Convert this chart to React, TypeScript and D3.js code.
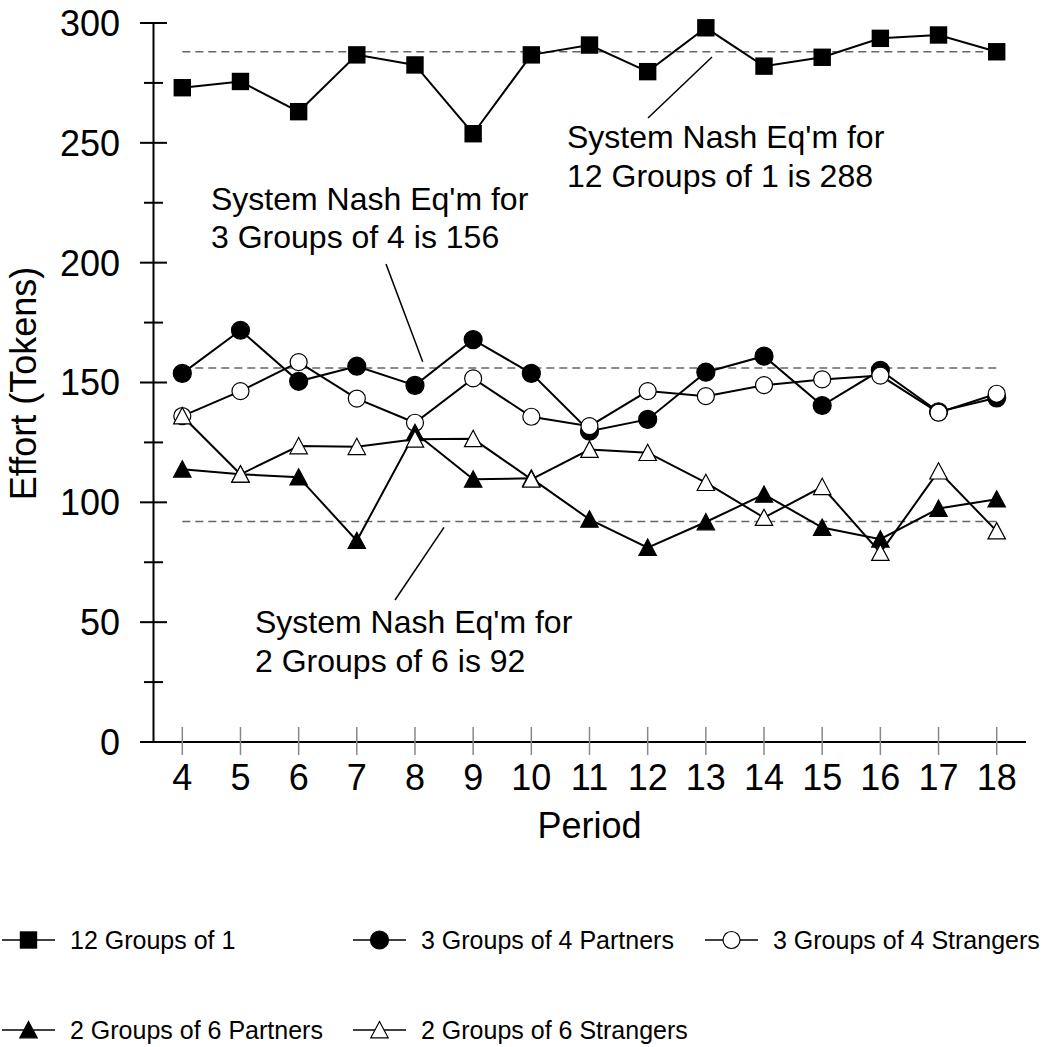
import React from 'react';
import * as d3 from 'd3';

// periods on the x axis
const periods = [4, 5, 6, 7, 8, 9, 10, 11, 12, 13, 14, 15, 16, 17, 18];

// mean effort per period
const groups12of1 = [273, 275.6, 263, 286.7, 282.5, 253.8, 286.7, 290.8, 279.7, 298, 282, 285.7, 293.6, 295, 288];
const groups3of4Partners = [153.8, 171.8, 150.5, 156.8, 148.8, 167.9, 153.8, 129.7, 134.6, 154.3, 161, 140.4, 155.1, 137.8, 143.6];
const groups3of4Strangers = [136, 146.4, 158.5, 143.3, 133.2, 151.7, 135.7, 131.8, 146.4, 144.3, 148.9, 151.3, 152.9, 137.4, 145.3];
const groups2of6Partners = [113.8, 111.7, 110.5, 84, 129, 109.6, 110, 92.9, 81.1, 91.8, 103.3, 89.5, 84.6, 97.4, 101.3];
const groups2of6Strangers = [136, 111.7, 123.5, 123.2, 126.3, 126.5, 109.6, 122, 120.7, 108.2, 93.6, 106.5, 79, 113, 88];

// equilibrium reference lines
const nashValues = [288, 156, 92];

const yMajorTicks = [0, 50, 100, 150, 200, 250, 300];
const yMinorTicks = [25, 75, 125, 175, 225, 275];

type Marker = 'square' | 'circle' | 'openCircle' | 'triangle' | 'openTriangle';

const series: { name: string; values: number[]; marker: Marker }[] = [
  { name: '12 Groups of 1', values: groups12of1, marker: 'square' },
  { name: '3 Groups of 4 Partners', values: groups3of4Partners, marker: 'circle' },
  { name: '3 Groups of 4 Strangers', values: groups3of4Strangers, marker: 'openCircle' },
  { name: '2 Groups of 6 Partners', values: groups2of6Partners, marker: 'triangle' },
  { name: '2 Groups of 6 Strangers', values: groups2of6Strangers, marker: 'openTriangle' },
];

const FONT = 'Liberation Sans, Arial, Helvetica, sans-serif';

const MarkerShape = ({ type, x, y }: { type: Marker; x: number; y: number }) => {
  const filled = type === 'square' || type === 'circle' || type === 'triangle';
  const fill = filled ? '#000' : '#fff';
  if (type === 'square') {
    return <rect x={x - 8.7} y={y - 8.7} width={17.4} height={17.4} fill="#000" />;
  }
  if (type === 'circle' || type === 'openCircle') {
    return <circle cx={x} cy={y} r={filled ? 9 : 8.5} fill={fill} stroke="#000" strokeWidth={1.2} />;
  }
  return (
    <path
      d={`M${x},${y - 8.5} L${x + 8.7},${y + 7.8} L${x - 8.7},${y + 7.8} Z`}
      fill={fill}
      stroke="#000"
      strokeWidth={1.2}
    />
  );
};

const App = () => {
  const width = 1049;
  const height = 1047;

  const x = d3.scaleLinear().domain([4, 18]).range([182.3, 996.7]);
  const y = d3.scaleLinear().domain([0, 300]).range([742, 23]);

  const line = d3
    .line<number>()
    .x((_, i) => x(periods[i]))
    .y(d => y(d));

  const axisX = 153.5;

  const legendCols = [0, 351, 703];
  const legendRows = [940, 1030];
  const legendPos = [
    [legendCols[0], legendRows[0]],
    [legendCols[1], legendRows[0]],
    [legendCols[2], legendRows[0]],
    [legendCols[0], legendRows[1]],
    [legendCols[1], legendRows[1]],
  ];

  return (
    <div style={{ position: 'absolute', left: 0, top: 0 }}>
      <svg width={width} height={height} style={{ display: 'block', background: '#fff' }} fontFamily={FONT}>
        <rect width={width} height={height} fill="#fff" />

        {/* dashed equilibrium lines */}
        {nashValues.map(v => (
          <line
            key={v}
            x1={x(4)}
            x2={x(18)}
            y1={y(v)}
            y2={y(v)}
            stroke="#666"
            strokeWidth={1.5}
            strokeDasharray="8,5"
          />
        ))}

        {/* y axis */}
        <line x1={axisX} x2={axisX} y1={y(300)} y2={y(0)} stroke="#000" strokeWidth={2} />
        {yMajorTicks.map(t => (
          <g key={t}>
            <line x1={140} x2={167} y1={y(t)} y2={y(t)} stroke="#000" strokeWidth={2} />
            <text x={120} y={y(t)} dy="0.36em" textAnchor="end" fontSize={36}>
              {t}
            </text>
          </g>
        ))}
        {yMinorTicks.map(t => (
          <line key={t} x1={144} x2={163} y1={y(t)} y2={y(t)} stroke="#000" strokeWidth={2} />
        ))}
        <text
          transform={`translate(36,${(y(0) + y(300)) / 2 + 1}) rotate(-90)`}
          textAnchor="middle"
          fontSize={36}
        >
          Effort (Tokens)
        </text>

        {/* x axis */}
        <line x1={140} x2={1026} y1={y(0)} y2={y(0)} stroke="#000" strokeWidth={2} />
        {periods.map(p => (
          <g key={p}>
            <line x1={x(p)} x2={x(p)} y1={727} y2={755} stroke="#888" strokeWidth={1.5} />
            <text x={x(p)} y={790} textAnchor="middle" fontSize={36}>
              {p}
            </text>
          </g>
        ))}
        <text x={(x(4) + x(18)) / 2} y={838} textAnchor="middle" fontSize={36}>
          Period
        </text>

        {/* annotations */}
        <g fontSize={32}>
          <line x1={648} y1={118} x2={712} y2={57} stroke="#000" strokeWidth={1.5} />
          <text x={567} y={148}>System Nash Eq'm for</text>
          <text x={567} y={187}>12 Groups of 1 is 288</text>

          <line x1={386} y1={264} x2={422.7} y2={361.7} stroke="#000" strokeWidth={1.5} />
          <text x={211} y={210}>System Nash Eq'm for</text>
          <text x={211} y={248}>3 Groups of 4 is 156</text>

          <line x1={444} y1={527.3} x2={395} y2={600} stroke="#000" strokeWidth={1.5} />
          <text x={255} y={633}>System Nash Eq'm for</text>
          <text x={255} y={672}>2 Groups of 6 is 92</text>
        </g>

        {/* series */}
        {series.map(s => (
          <g key={s.name}>
            <path d={line(s.values) ?? ''} fill="none" stroke="#000" strokeWidth={2} />
            {s.values.map((v, i) => (
              <MarkerShape key={i} type={s.marker} x={x(periods[i])} y={y(v)} />
            ))}
          </g>
        ))}

        {/* legend */}
        {series.map((s, i) => {
          const [lx, ly] = legendPos[i];
          return (
            <g key={s.name}>
              <line x1={lx + 2} x2={lx + 55} y1={ly} y2={ly} stroke="#000" strokeWidth={1.5} />
              <MarkerShape type={s.marker} x={lx + 28.5} y={ly} />
              <text x={lx + 70} y={ly} dy="0.36em" fontSize={25}>
                {s.name}
              </text>
            </g>
          );
        })}
      </svg>
    </div>
  );
};

export default App;
